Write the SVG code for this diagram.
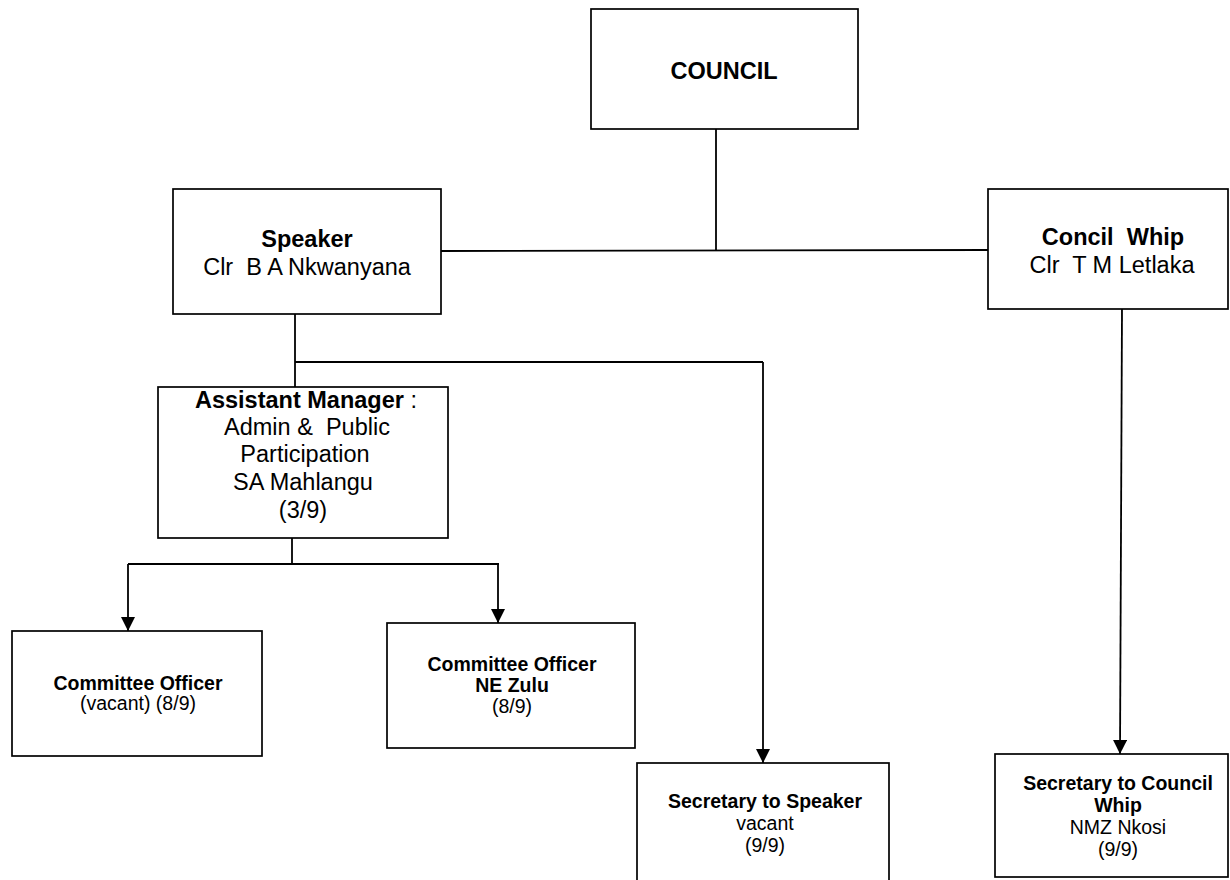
<svg xmlns="http://www.w3.org/2000/svg" width="1230" height="880" viewBox="0 0 1230 880">
  <style>
    .box { fill: #ffffff; stroke: #000000; stroke-width: 1.7; }
    .line { fill: none; stroke: #000000; stroke-width: 1.8; }
    .arrow { fill: none; stroke: #000000; stroke-width: 1.8; marker-end: url(#head); }
    text { font-family: "Liberation Sans", Arial, sans-serif; fill: #000000; text-anchor: middle; }
    .big { font-size: 23.5px; }
    .small { font-size: 19.5px; }
    .b { font-weight: bold; }
  </style>
  <defs>
    <marker id="head" viewBox="0 0 10 10" refX="10" refY="5" markerWidth="8" markerHeight="8" markerUnits="strokeWidth" orient="auto">
      <path d="M0,0 L10,5 L0,10 z" fill="#000000"/>
    </marker>
  </defs>

  <g id="connectors">
    <line class="line" x1="716" y1="129" x2="716" y2="251"/>
    <line class="line" x1="441" y1="251" x2="988" y2="250"/>
    <line class="line" x1="295" y1="314" x2="295" y2="387"/>
    <line class="line" x1="295" y1="362" x2="763" y2="362"/>
    <line class="arrow" x1="763" y1="362" x2="763" y2="763"/>
    <line class="arrow" x1="1122" y1="309" x2="1120" y2="754"/>
    <line class="line" x1="292" y1="538" x2="292" y2="564"/>
    <line class="line" x1="128" y1="564" x2="499" y2="564"/>
    <line class="arrow" x1="128" y1="564" x2="128" y2="631"/>
    <line class="arrow" x1="498" y1="564" x2="498" y2="623"/>
  </g>

  <g id="council">
    <rect class="box" x="591" y="9" width="267" height="120"/>
    <text class="big b" x="724" y="79">COUNCIL</text>
  </g>

  <g id="speaker">
    <rect class="box" x="173" y="189" width="268" height="125"/>
    <text class="big b" x="307" y="247">Speaker</text>
    <text class="big" x="307" y="275" xml:space="preserve">Clr  B A Nkwanyana</text>
  </g>

  <g id="council-whip">
    <rect class="box" x="988" y="189" width="240" height="120"/>
    <text class="big b" x="1113" y="245" xml:space="preserve">Concil  Whip</text>
    <text class="big" x="1112" y="273" xml:space="preserve">Clr  T M Letlaka</text>
  </g>

  <g id="assistant-manager">
    <rect class="box" x="158" y="387" width="290" height="151"/>
    <text class="big" x="306" y="408"><tspan class="b">Assistant Manager</tspan> :</text>
    <text class="big" x="307" y="435" xml:space="preserve">Admin &amp;  Public</text>
    <text class="big" x="305" y="462">Participation</text>
    <text class="big" x="303" y="490">SA Mahlangu</text>
    <text class="big" x="303" y="518">(3/9)</text>
  </g>

  <g id="committee-officer-1">
    <rect class="box" x="12" y="631" width="250" height="125"/>
    <text class="small b" x="138" y="690">Committee Officer</text>
    <text class="small" x="138" y="710">(vacant) (8/9)</text>
  </g>

  <g id="committee-officer-2">
    <rect class="box" x="387" y="623" width="248" height="125"/>
    <text class="small b" x="512" y="671">Committee Officer</text>
    <text class="small b" x="512" y="692">NE Zulu</text>
    <text class="small" x="512" y="713">(8/9)</text>
  </g>

  <g id="secretary-speaker">
    <rect class="box" x="637" y="763" width="252" height="130"/>
    <text class="small b" x="765" y="808">Secretary to Speaker</text>
    <text class="small" x="765" y="830">vacant</text>
    <text class="small" x="765" y="852">(9/9)</text>
  </g>

  <g id="secretary-whip">
    <rect class="box" x="995" y="754" width="233" height="123"/>
    <text class="small b" x="1118" y="790">Secretary to Council</text>
    <text class="small b" x="1118" y="812">Whip</text>
    <text class="small" x="1118" y="834">NMZ Nkosi</text>
    <text class="small" x="1118" y="856">(9/9)</text>
  </g>
</svg>
